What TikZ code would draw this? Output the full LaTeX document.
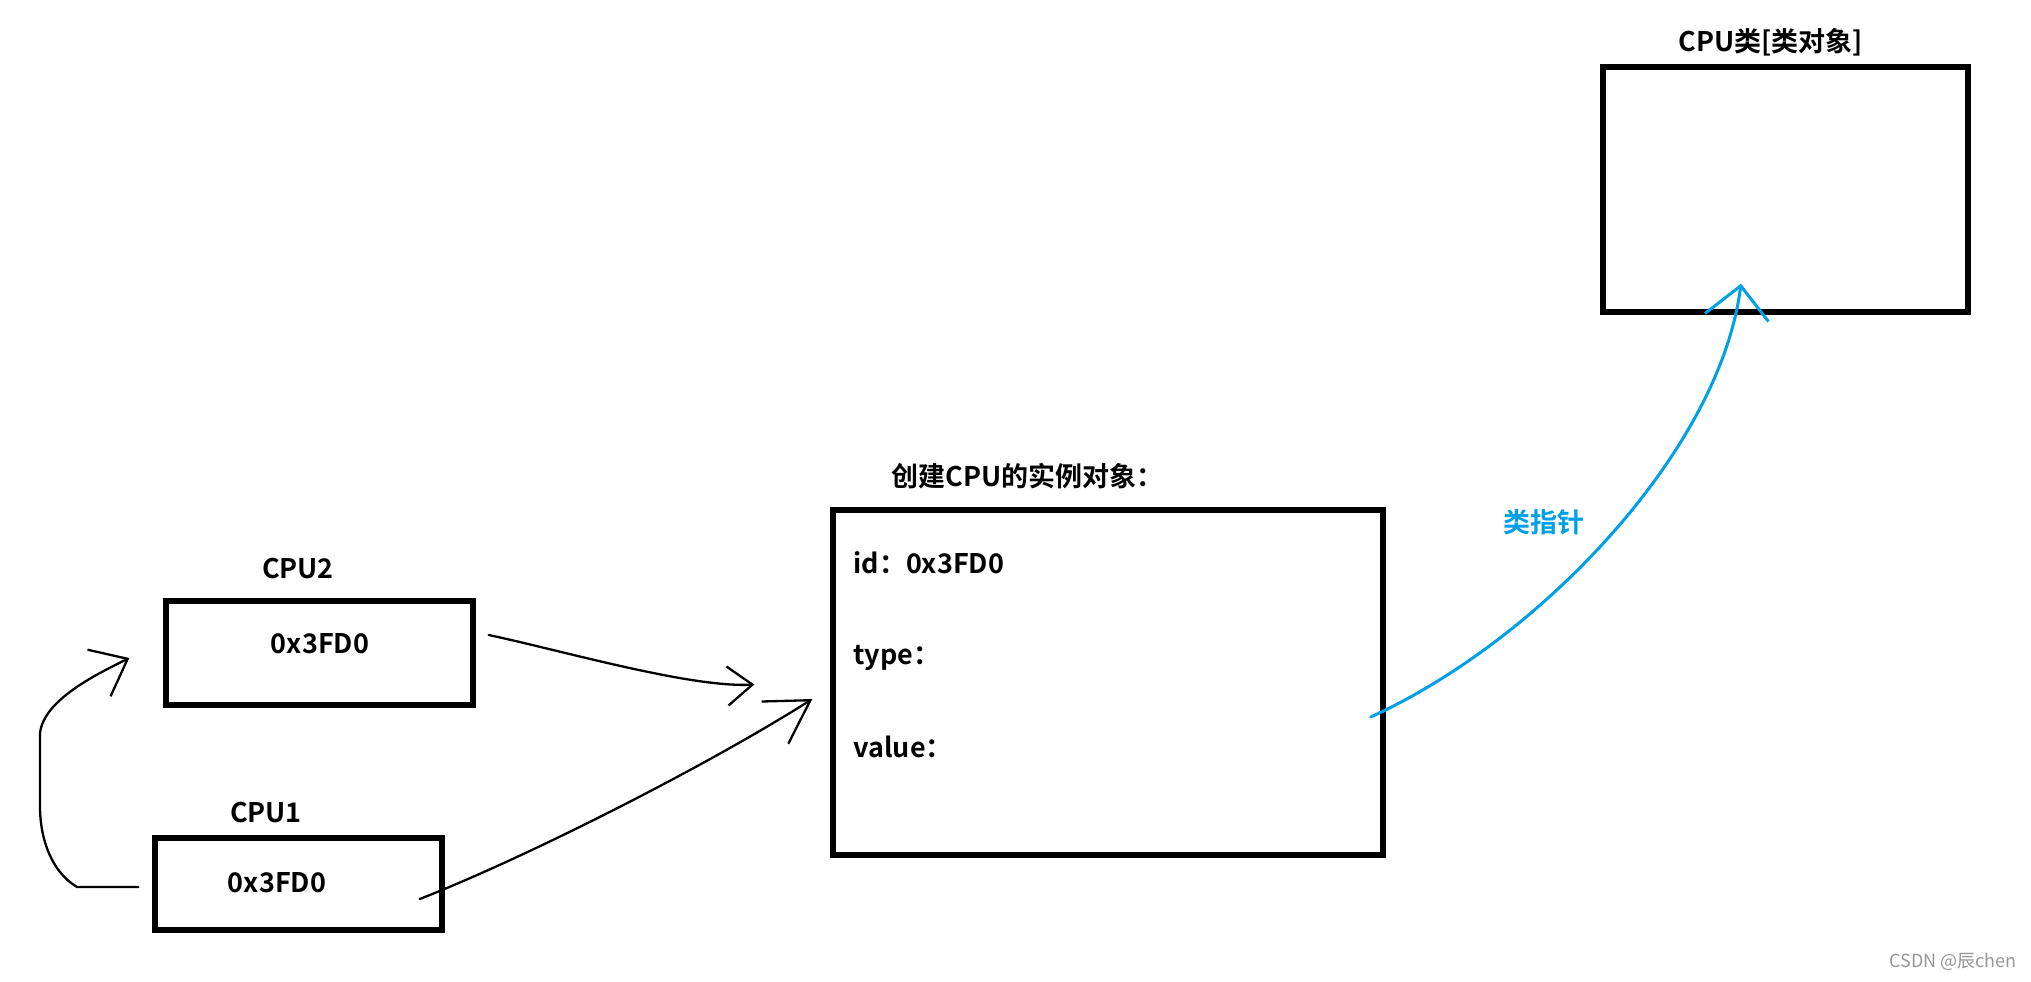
\documentclass[tikz,border=0pt]{standalone}
\usepackage{fontspec}
\setmainfont{Noto Sans CJK SC}[BoldFont={Noto Sans CJK SC Bold}]
\usetikzlibrary{arrows.meta,calc}
\definecolor{inkblue}{RGB}{0,160,233}
\definecolor{markgray}{RGB}{150,150,150}
\tikzset{
  objbox/.style  = {draw,line width=2.65pt,inner sep=0pt},
  lbl/.style     = {font=\fontsize{13.5}{16}\selectfont\bfseries,inner sep=0pt},
  handarr/.style = {-{Straight Barb[length=16pt,width=26pt]},line width=1.15pt,line cap=round,line join=round},
  ptrarr/.style  = {handarr,-{Straight Barb[length=16pt,width=32pt]},inkblue,line width=1.5pt}
}

\begin{document}
\begin{tikzpicture}[x=0.5pt,y=-0.5pt]
  \useasboundingbox (0,0) rectangle (2031,981);
  % class object
  \node[objbox,minimum width=182.5pt,minimum height=122.5pt] (cls) at (1785.5,189.5) {};
  \node[lbl,anchor=base] (clst) at (1771,51) {CPU类[类对象]};
  % instance object
  \node[objbox,minimum width=275pt,minimum height=172.5pt] (obj) at (1108,682.5) {};
  \node[lbl,anchor=base west] (objt)  at (891,486) {创建CPU的实例对象：};
  \node[lbl,anchor=base west] (fid)   at (853,573) {id：0x3FD0};
  \node[lbl,anchor=base west] (ftype) at (853,664) {type：};
  \node[lbl,anchor=base west] (fval)  at (853,757) {value：};
  % the two variables
  \node[objbox,minimum width=153.5pt,minimum height=52pt] (cpu2) at (319.5,653) {};
  \node[lbl,anchor=base] (cpu2v) at (320,653) {0x3FD0};
  \node[lbl,anchor=base] (cpu2t) at (298,578) {CPU2};
  \node[objbox,minimum width=143.5pt,minimum height=46pt] (cpu1) at (298.5,884) {};
  \node[lbl,anchor=base] (cpu1v) at (277,892) {0x3FD0};
  \node[lbl,anchor=base] (cpu1t) at (266,822) {CPU1};
  \node[lbl,text=inkblue] (ptrt) at (1544,522) {类指针};
  \node[font=\fontsize{9}{11}\selectfont,text=markgray,anchor=east,inner sep=0pt] (mark) at (2017,962) {CSDN @辰chen};

  \draw[handarr,-{Straight Barb[length=12.5pt,width=19.5pt]}]
    ($(cpu2.east)+(13,-18)$) .. controls (560,650) and (690,688) .. ($(obj.west)+(-76,2)$);
  \draw[handarr,-{Straight Barb[length=21pt,width=25pt]}]
    ($(cpu1.east)+(-25,15)$) .. controls (520,860) and (700,770) .. ($(obj.west)+(-18,16.5)$);
  \draw[handarr] ($(cpu1.west)+(-14,3)$) -- (77,887) .. controls (52,872) and (40,840) .. (40,806)
    -- (40,733) .. controls (44,700) and (95,675) .. ($(cpu2.west)+(-34,5)$);
  \draw[ptrarr] ($(obj.east)+(-15,34.5)$) .. controls (1540,640) and (1720,450) .. ($(cls.south)+(-44.5,-31)$);
\end{tikzpicture}
\end{document}
